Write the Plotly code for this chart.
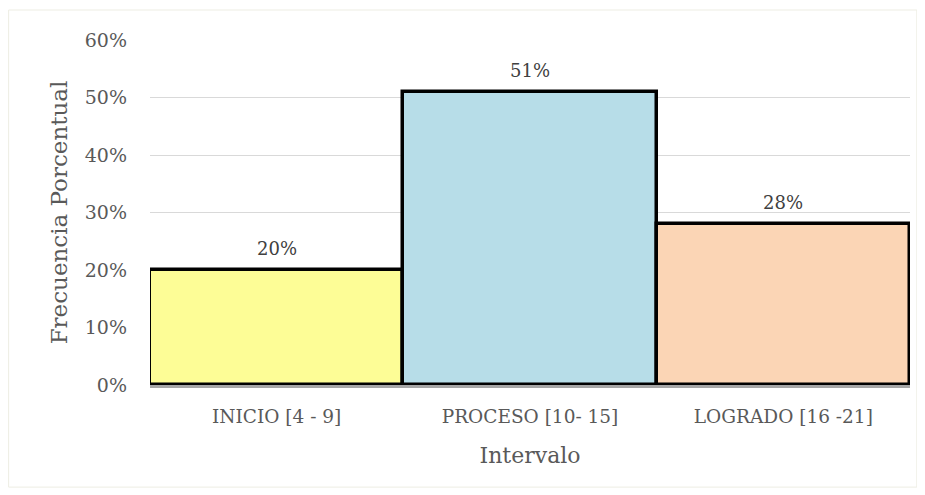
import plotly.graph_objects as go

categorias = ["INICIO [4 - 9]", "PROCESO [10- 15]", "LOGRADO [16 -21]"]
porcentajes = [0.20, 0.51, 0.28]
colores = ["#FDFD96", "#B7DDE8", "#FBD5B5"]
ticks_y = [0, 0.1, 0.2, 0.3, 0.4, 0.5, 0.6]

fuente = "DejaVu Serif"

fig = go.Figure(
    go.Bar(
        x=categorias,
        y=porcentajes,
        marker=dict(color=colores, line=dict(color="black", width=3.5)),
        cliponaxis=False,
    )
)

# etiquetas de datos un poco separadas de la barra, como en Excel
for cat, v in zip(categorias, porcentajes):
    fig.add_annotation(
        x=cat, y=v, text=f"{v:.0%}", showarrow=False,
        yanchor="bottom", yshift=9,
        font=dict(family=fuente, size=18, color="#404040"),
    )

# la pagina tiene 8px de margen en el body, por eso 917x487
fig.update_layout(
    width=917,
    height=487,
    margin=dict(l=142, r=15, t=32, b=110),
    paper_bgcolor="white",
    plot_bgcolor="white",
    bargap=0,
    showlegend=False,
    font=dict(family=fuente, color="#595959"),
    xaxis=dict(
        title=dict(text="Intervalo", font=dict(size=22), standoff=22),
        tickfont=dict(size=18.5),
        showline=True,
        linecolor="#A6A6A6",
        linewidth=2.5,
        ticks="",
        ticklabelstandoff=13,
    ),
    yaxis=dict(
        title=dict(text="Frecuencia Porcentual", font=dict(size=23), standoff=10),
        range=[0, 0.6],
        tickvals=ticks_y,
        tickformat=".0%",
        tickfont=dict(size=19),
        gridcolor="#D9D9D9",
        gridwidth=1.2,
        zeroline=False,
        ticklabelstandoff=22,
    ),
    shapes=[
        dict(
            type="rect", xref="paper", yref="paper",
            x0=-0.186, x1=1.009, y0=-0.296, y1=1.087,
            line=dict(color="#EDEDE3", width=1),
            layer="below",
        )
    ],
)

fig.write_html("out.html")
